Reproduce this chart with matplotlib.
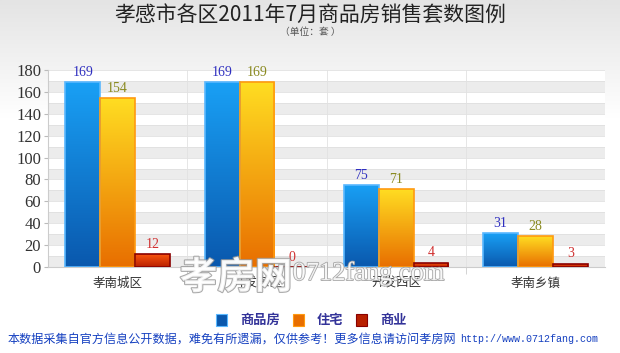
import numpy as np
import matplotlib
matplotlib.use("Agg")
import matplotlib.pyplot as plt
import matplotlib.patheffects as pe
from matplotlib.colors import LinearSegmentedColormap

plt.rcParams['font.family'] = ['Noto Sans CJK SC', 'DejaVu Sans']

# data
districts = ["孝南城区", "开发东区", "开发西区", "孝南乡镇"]
series_names = ["商品房", "住宅", "商业"]
commodity = [169, 169, 75, 31]
housing = [154, 169, 71, 28]
business = [12, 0, 4, 3]
yticks = [0, 20, 40, 60, 80, 100, 120, 140, 160, 180]

# colours: (top, bottom, edge, label colour)
styles = [
    ("#19a0f5", "#0a58ad", "#5ab8ff", "#3030c0"),
    ("#ffdd22", "#e86e00", "#ff9a10", "#8a8a20"),
    ("#ff5a10", "#b82000", "#8a0000", "#d03030"),
]

fig = plt.figure(figsize=(6.2, 3.53), dpi=100)

# figure background gradient
bg = fig.add_axes([0, 0, 1, 1], zorder=-5)
grad = np.linspace(0, 1, 256).reshape(-1, 1)
bg_cmap = LinearSegmentedColormap.from_list("bg", ["#e4e4e4", "#ffffff", "#ffffff", "#ffffff"])
bg.imshow(grad, aspect="auto", cmap=bg_cmap, extent=[0, 1, 0, 1], origin="upper")
bg.set_axis_off()

ax = fig.add_axes([0.0774, 0.2436, 0.976 - 0.0774, 0.8017 - 0.2436])
ax.set_facecolor("white")

# striped bands
for k in range(0, 180, 20):
    ax.axhspan(k, k + 10, color="#ececec", zorder=0, lw=0)
for k in range(0, 190, 10):
    ax.axhline(k, color="#e0e0e0", lw=0.6, zorder=0.5)
for xb in [0.5, 1.5, 2.5]:
    ax.axvline(xb, color="#e2e2e2", lw=0.6, zorder=0.5)

x = np.arange(len(districts))
w = 0.25
all_series = [commodity, housing, business]
for i, vals in enumerate(all_series):
    top, bot, edge, lab = styles[i]
    cmap = LinearSegmentedColormap.from_list("c%d" % i, [bot, top])
    bars = ax.bar(x + (i - 1) * w, vals, width=w, color="none",
                  edgecolor=edge, linewidth=1.2, zorder=3)
    for b, v in zip(bars, vals):
        if v > 0:
            x0, y0 = b.get_x(), b.get_y()
            im = ax.imshow(grad, aspect="auto", cmap=cmap,
                           extent=[x0, x0 + b.get_width(), y0, y0 + b.get_height()],
                           origin="lower", zorder=2)
            im.set_clip_path(b)
        ax.text(b.get_x() + b.get_width() / 2, v + 3, str(v), ha="center", va="bottom",
                color=lab, fontsize=10, family="Liberation Serif", zorder=5)

ax.set_xlim(-0.5, 3.5)
ax.set_ylim(0, 180)
ax.set_yticks(yticks)
ax.set_yticklabels([str(t) for t in yticks], family="Liberation Serif", fontsize=12, color="#333333")
ax.set_xticks(x)
ax.set_xticklabels(districts, fontsize=9, color="#333333")
ax.tick_params(axis="x", length=0, pad=7)
ax.tick_params(axis="y", length=3, color="#bbbbbb", pad=2)
ax.set_xticks([0.5, 1.5, 2.5], minor=True)
ax.tick_params(axis="x", which="minor", length=5, color="#cccccc")
for s in ["top", "right"]:
    ax.spines[s].set_visible(False)
ax.spines["left"].set_color("#cccccc")
ax.spines["bottom"].set_color("#cccccc")

# watermark
fig.text(0.29, 0.215, "孝房网", fontsize=27, color="white", alpha=0.85, va="center",
         fontweight="bold", path_effects=[pe.withStroke(linewidth=1.5, foreground="#9a9a9a")], zorder=10)
fig.text(0.472, 0.225, "0712fang.com", fontsize=19, color="white", alpha=0.85, va="center",
         family="Liberation Serif", path_effects=[pe.withStroke(linewidth=1.2, foreground="#9a9a9a")], zorder=10)

# title
fig.text(0.5, 1 - 15 / 353, "孝感市各区2011年7月商品房销售套数图例", ha="center", va="center",
         fontsize=15, color="#222222")
fig.text(0.5, 1 - 32 / 353, "（单位：套 ）", ha="center", va="center", fontsize=7, color="#555555")

# legend
leg_y = 1 - 320 / 353
for (sx, tx), name, st in zip([(216, 240), (293, 317), (356, 380)], series_names, styles):
    fig.patches.append(plt.Rectangle((sx / 620, leg_y - 6 / 353), 11 / 620, 12 / 353,
                                     transform=fig.transFigure, facecolor=st[1],
                                     edgecolor=st[2], lw=0.8))
    fig.text(tx / 620, leg_y, name, va="center", fontsize=9.5, color="#333399", fontweight="bold")

# footer
fig.text(8 / 620, 1 - 339 / 353, "本数据采集自官方信息公开数据，难免有所遗漏，仅供参考！更多信息请访问孝房网",
         va="center", fontsize=8.7, color="#1540c0")
fig.text(460 / 620, 1 - 339 / 353, "http://www.0712fang.com", va="center", fontsize=7.2,
         family="Liberation Mono", color="#1540c0")

fig.savefig("out.png", dpi=100)
